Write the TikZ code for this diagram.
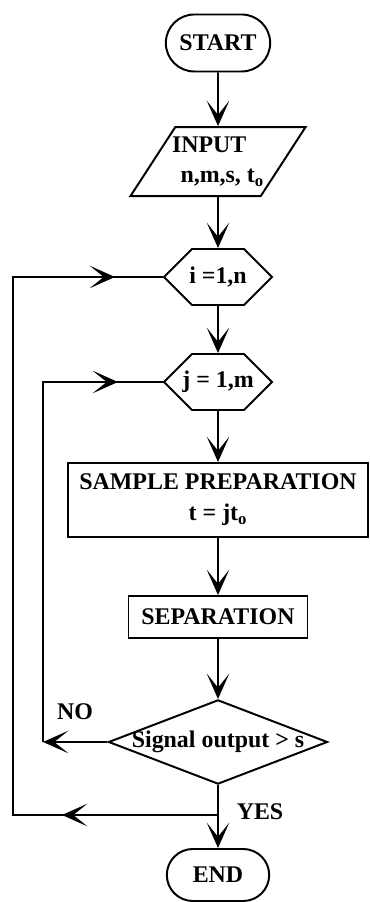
\documentclass[tikz,border=0pt]{standalone}
\usepackage{fontspec}
\setmainfont{Liberation Serif}
\usetikzlibrary{positioning, arrows.meta, shapes.geometric, shapes.misc, shapes.symbols, decorations.markings}

\begin{document}
\begin{tikzpicture}[
    font=\fontsize{17}{22}\selectfont\bfseries, line width=1.4pt,
    >={Stealth[length=18pt, width=16pt, inset=10pt]},
    term/.style={draw, rounded rectangle, minimum width=2.75cm, minimum height=1.425cm, inner sep=2pt},
    io/.style={draw, trapezium, trapezium left angle=57, trapezium right angle=123,
               minimum width=3.8cm, minimum height=1.725cm, align=left, inner xsep=-8pt, inner ysep=2pt},
    loopbox/.style={draw, signal, signal to=west and east, signal pointer angle=90,
                    minimum width=2.7cm, minimum height=1.4cm, inner xsep=-7.5pt, inner ysep=2pt},
    proc/.style={draw, rectangle, align=center, inner sep=2pt},
    dec/.style={draw, diamond, aspect=2.6, inner sep=-1pt},
    arr/.style={->},
    midarr/.style={postaction={decorate, decoration={markings, mark=at position #1 with {\arrow{>}}}}},
    lbl/.style={inner sep=1pt}]
    \useasboundingbox (0,0) rectangle (9.25,22.55);
    \node[term] (start) at (5.45,21.475) {START};
    \node[io] (input) at (5.45,18.51) {INPUT\\\hspace*{6pt}n,m,s, t\textsubscript{o}};
    \node[loopbox] (iloop) at (5.45,15.625) {i =1,n};
    \node[loopbox] (jloop) at (5.45,13.0) {j = 1,m};
    \node[proc, minimum width=7.5cm, minimum height=1.85cm] (sample) at (5.45,10.05) {SAMPLE PREPARATION\\t = jt\textsubscript{o}};
    \node[proc, minimum width=4.475cm, minimum height=1.05cm] (sep) at (5.45,7.125) {SEPARATION};
    \node[dec] (test) at (5.45,4.0) {Signal output > s};
    \node[term, minimum width=2.7cm, minimum height=1.3cm] (end) at (5.45,0.675) {END};
    \node[lbl] (no) at (1.875,4.75) {NO};
    \node[lbl] (yeslbl) at (6.5,2.25) {YES};
    \coordinate (yes) at (5.45,2.175);
    \coordinate (outer) at (0.325,2.175);
    \coordinate (inner) at (1.075,4.0);
    \draw[arr] (start) -- (input);
    \draw[arr] (input) -- (iloop);
    \draw[arr] (iloop) -- (jloop);
    \draw[arr] (jloop) -- (sample);
    \draw[arr] (sample) -- (sep);
    \draw[arr] (sep) -- (test);
    \draw (test) -- (yes);
    \draw[arr] (yes) -- (end);
    \draw[midarr=3.9cm, midarr=21.125cm] (yes) -- (outer) |- (iloop.west);
    \draw[arr] (test) -- (inner);
    \draw[midarr=10.875cm] (inner) |- (jloop.west);
\end{tikzpicture}
\end{document}
